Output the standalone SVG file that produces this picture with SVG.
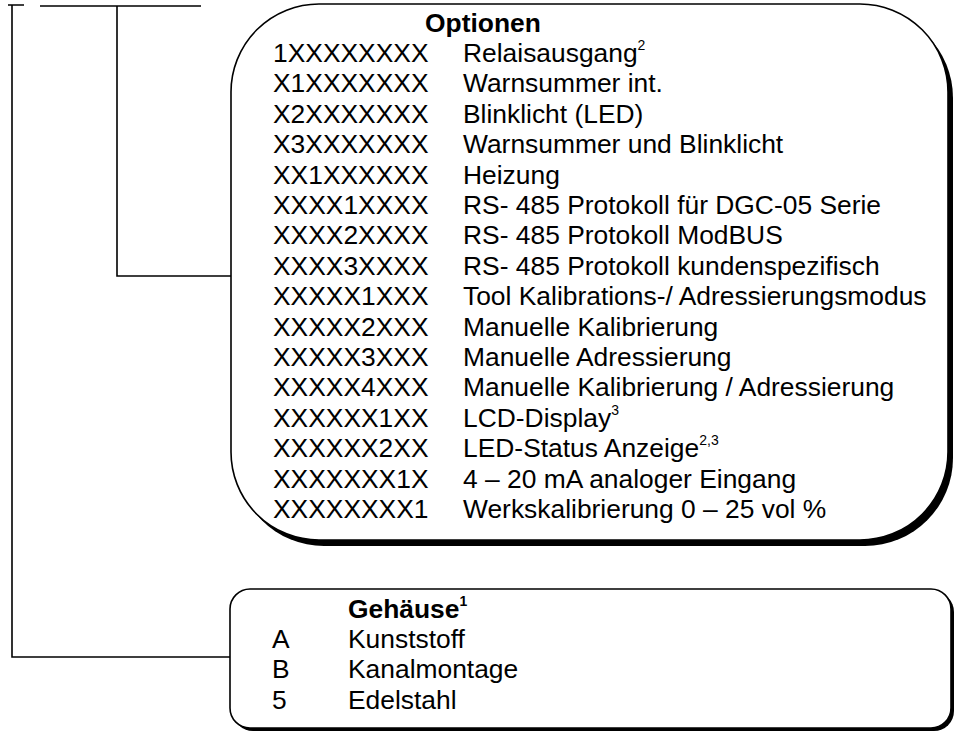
<svg xmlns="http://www.w3.org/2000/svg" width="958" height="735" viewBox="0 0 958 735">
<style>
text{font-family:"Liberation Sans",Arial,sans-serif;font-size:26.4px;fill:#000}
.b{font-weight:bold}
.sup{font-size:14px}
.ln{stroke:#000;stroke-width:1.6;fill:none}
.box{fill:#fff;stroke:#000;stroke-width:1.6}
.sh{fill:#000;stroke:none}
</style>
<rect width="958" height="735" fill="#fff"/>
<g id="connectors">
<path class="ln" d="M8 5H24M12 5V657H230"/>
<path class="ln" d="M40 6H201M117 6V276H231"/>
</g>
<g id="optionen">
<rect class="sh" x="236" y="10" width="717" height="536" rx="88" ry="88"/>
<rect class="box" x="231" y="4" width="717" height="536" rx="88" ry="88"/>
<text class="b" x="425" y="31.6">Optionen</text>
<text x="273" y="62">1XXXXXXXX</text><text x="463" y="62">Relaisausgang<tspan class="sup" dy="-12">2</tspan></text>
<text x="273" y="92.4">X1XXXXXXX</text><text x="463" y="92.4">Warnsummer int.</text>
<text x="273" y="122.8">X2XXXXXXX</text><text x="463" y="122.8">Blinklicht (LED)</text>
<text x="273" y="153.2">X3XXXXXXX</text><text x="463" y="153.2">Warnsummer und Blinklicht</text>
<text x="273" y="183.6">XX1XXXXXX</text><text x="463" y="183.6">Heizung</text>
<text x="273" y="214">XXXX1XXXX</text><text x="463" y="214">RS- 485 Protokoll für DGC-05 Serie</text>
<text x="273" y="244.4">XXXX2XXXX</text><text x="463" y="244.4">RS- 485 Protokoll ModBUS</text>
<text x="273" y="274.8">XXXX3XXXX</text><text x="463" y="274.8">RS- 485 Protokoll kundenspezifisch</text>
<text x="273" y="305.2">XXXXX1XXX</text><text x="463" y="305.2">Tool Kalibrations-/ Adressierungsmodus</text>
<text x="273" y="335.6">XXXXX2XXX</text><text x="463" y="335.6">Manuelle Kalibrierung</text>
<text x="273" y="366">XXXXX3XXX</text><text x="463" y="366">Manuelle Adressierung</text>
<text x="273" y="396.4">XXXXX4XXX</text><text x="463" y="396.4">Manuelle Kalibrierung / Adressierung</text>
<text x="273" y="426.8">XXXXXX1XX</text><text x="463" y="426.8">LCD-Display<tspan class="sup" dy="-12">3</tspan></text>
<text x="273" y="457.2">XXXXXX2XX</text><text x="463" y="457.2">LED-Status Anzeige<tspan class="sup" dy="-12">2,3</tspan></text>
<text x="273" y="487.6">XXXXXXX1X</text><text x="463" y="487.6">4 – 20 mA analoger Eingang</text>
<text x="273" y="518">XXXXXXXX1</text><text x="463" y="518">Werkskalibrierung 0 – 25 vol %</text>
</g>
<g id="gehaeuse">
<rect class="sh" x="233" y="592" width="721" height="139" rx="20" ry="20"/>
<rect class="box" x="230" y="589" width="721" height="139" rx="20" ry="20"/>
<text class="b" x="348" y="617.6">Gehäuse<tspan class="sup" dy="-12">1</tspan></text>
<text x="272" y="648">A</text><text x="348" y="648">Kunststoff</text>
<text x="272" y="678.4">B</text><text x="348" y="678.4">Kanalmontage</text>
<text x="272" y="708.8">5</text><text x="348" y="708.8">Edelstahl</text>
</g>
</svg>
